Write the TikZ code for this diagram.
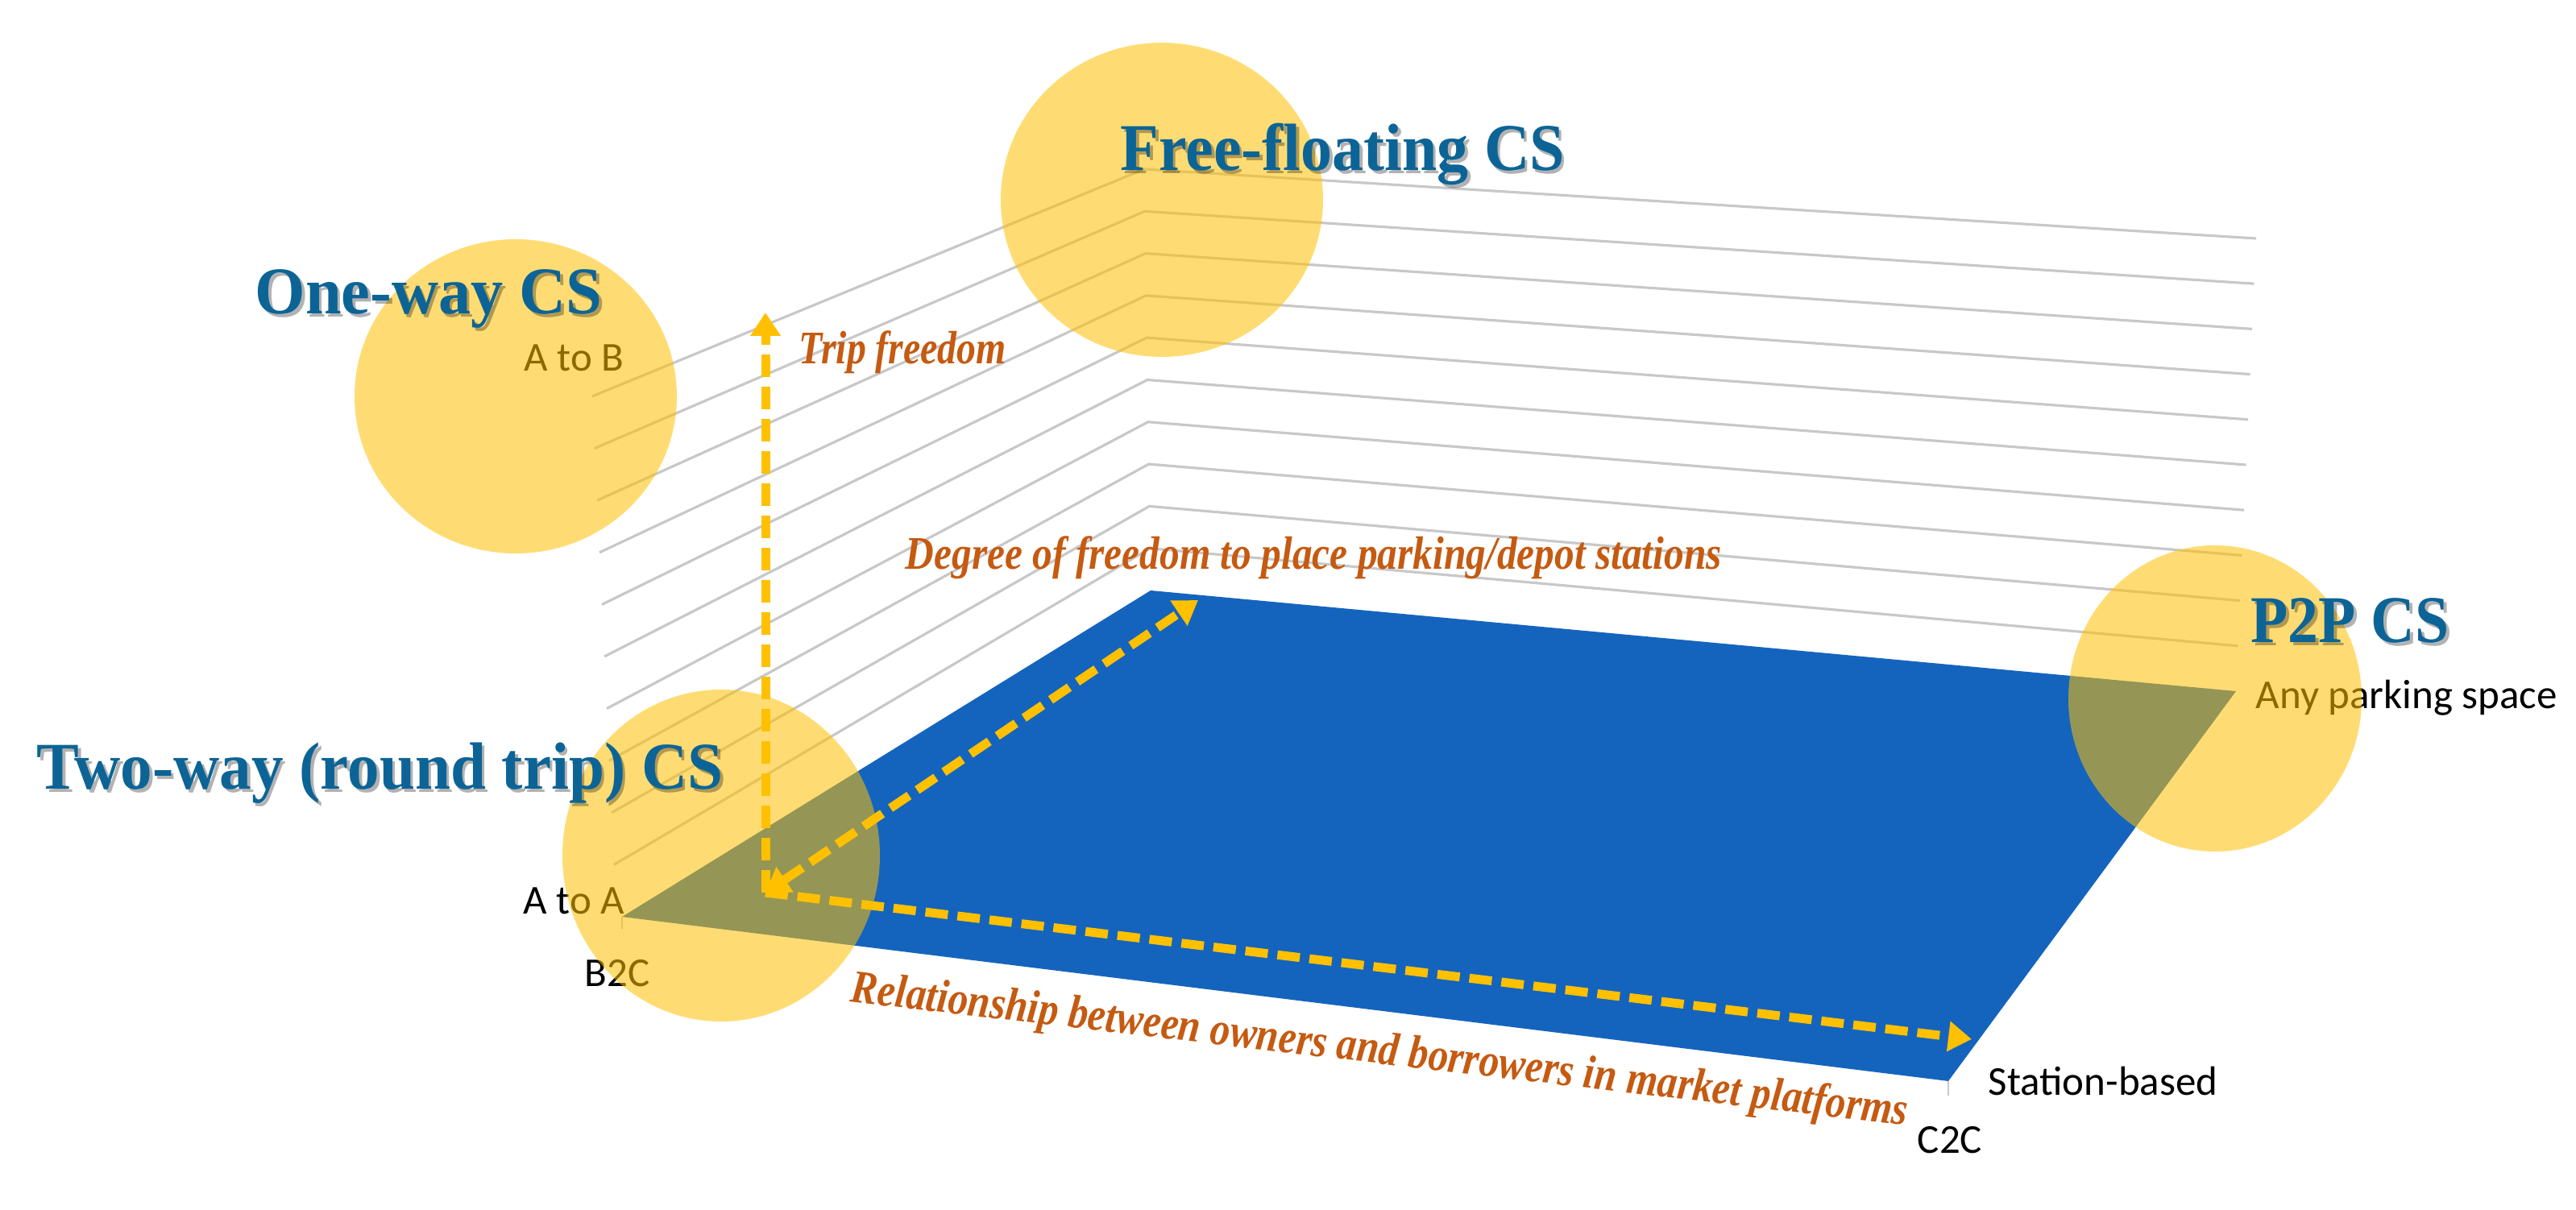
\documentclass[tikz,border=0pt]{standalone}
\usepackage{fontspec}
\setmainfont{Liberation Serif}
\newfontfamily\labelsans{Carlito}
\usetikzlibrary{arrows.meta}
\definecolor{planeblue}{RGB}{20,100,190}
\definecolor{csyellow}{RGB}{255,192,0}
\definecolor{titleblue}{RGB}{12,100,150}
\definecolor{axisorange}{RGB}{197,90,17}
\definecolor{gridgrey}{RGB}{200,200,200}
\tikzset{
  gridline/.style={draw=gridgrey, line width=0.9pt},
  csdisc/.style={fill=csyellow, fill opacity=0.55, draw=none},
  axisarrow/.style={draw=csyellow, line width=0.11cm, dash pattern=on 0.28cm off 0.12cm,
    -{Triangle[length=0.29cm,width=0.36cm]}},
  cstitle/.style={text=titleblue, font=\fontsize{23.6pt}{28pt}\selectfont\bfseries, inner sep=0pt, anchor=base west},
  csshadow/.style={cstitle, text=black, opacity=0.3},
  axislabel/.style={text=axisorange, font=\fontsize{16.5pt}{19pt}\selectfont\bfseries\itshape, inner sep=0pt},
  smalllabel/.style={text=black, font=\fontsize{14.5pt}{17pt}\selectfont\labelsans, inner sep=0pt},
}
\newcommand\CStitle[5]{%
  \node[csshadow] (#1s) at (#2+0.035,#3+0.035) {\resizebox{#4}{\height}{#5}};
  \node[cstitle] (#1) at (#2,#3) {\resizebox{#4}{\height}{#5}};
}
\begin{document}
\begin{tikzpicture}[x=1cm,y=-1cm]
\useasboundingbox[fill=white] (0,0) rectangle (31.97,15.02);

% grid lines of the two walls
\foreach \k in {1,...,10}
  \draw[gridline] ({7.65-0.03*\k},{11.38-0.646*\k}) -- ({14.28-0.008*\k},{7.33-0.523*\k}) -- ({27.75+0.025*\k},{8.58-0.562*\k});

% floor plane
\coordinate (P1) at (7.72,11.38);
\coordinate (P2) at (14.28,7.33);
\coordinate (P3) at (27.75,8.58);
\coordinate (P4) at (24.18,13.42);
\fill[planeblue] (P1) -- (P2) -- (P3) -- (P4) -- cycle;
\draw[gridgrey, line width=0.6pt] (P1) -- ++(0,0.15);
\draw[gridgrey, line width=0.6pt] (P4) -- ++(0,0.18);

% small labels
\node[smalllabel, anchor=base west] (atob) at (6.50,4.61) {A to B};
\node[smalllabel, anchor=base east] (atoa) at (7.76,11.35) {A to A};
\node[smalllabel, anchor=base] (b2c) at (7.66,12.25) {B2C};
\node[smalllabel, anchor=base west] (station) at (24.67,13.60) {Station-based};
\node[smalllabel, anchor=base] (c2c) at (24.20,14.32) {C2C};
\node[smalllabel, anchor=base west] (anyps) at (27.99,8.80) {Any parking space};

% translucent discs
\fill[csdisc] (6.40,4.92) ellipse [x radius=2.0, y radius=1.95];
\fill[csdisc] (14.42,2.48) ellipse [x radius=2.0, y radius=1.95];
\fill[csdisc] (8.95,10.62) ellipse [x radius=1.97, y radius=2.06];
\fill[csdisc] (27.49,8.67) ellipse [x radius=1.82, y radius=1.90];

% axes
\coordinate (O) at (9.50,11.08);
\coordinate (Vtip) at (9.50,3.88);
\coordinate (Dtip) at (14.87,7.45);
\coordinate (Htip) at (24.47,12.90);
\draw[axisarrow] (O) -- (Vtip);
\draw[axisarrow, {Triangle[length=0.29cm,width=0.36cm]}-{Triangle[length=0.29cm,width=0.36cm]}] (O) -- (Dtip);
\draw[axisarrow] (O) -- (Htip);

% axis labels
\node[axislabel, anchor=base west] (tripf) at (9.91,4.52) {\resizebox{2.57cm}{\height}{Trip freedom}};
\node[axislabel, anchor=base west] (degree) at (11.23,7.07) {\resizebox{10.13cm}{\height}{Degree of freedom to place parking/depot stations}};
\node[axislabel, rotate=-6.7, anchor=center] (relation) at (17.12,13.06) {\resizebox{13.2cm}{\height}{Relationship between owners and borrowers in market platforms}};

% titles
\CStitle{freefloat}{13.90}{2.12}{5.51cm}{Free-floating CS}
\CStitle{oneway}{3.16}{3.90}{4.31cm}{One-way CS}
\CStitle{twoway}{0.45}{9.80}{8.52cm}{Two-way (round trip) CS}
\CStitle{ptp}{27.93}{7.98}{2.46cm}{P2P CS}
\end{tikzpicture}
\end{document}
